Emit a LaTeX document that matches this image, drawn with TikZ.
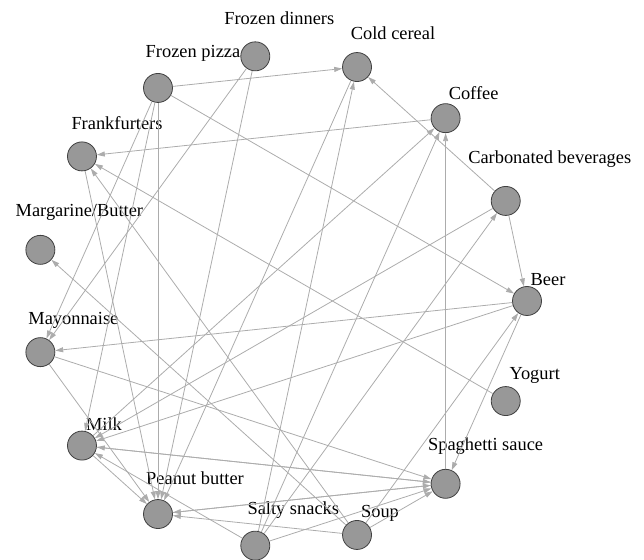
\documentclass[tikz,border=0pt]{standalone}
\usepackage{fontspec}
\setmainfont{Liberation Serif}
\usepackage{tikz}
\usepackage{xcolor}
\usetikzlibrary{arrows.meta}
\definecolor{node-grey}{RGB}{152,152,152}
\definecolor{rim-grey}{RGB}{64,64,64}
\definecolor{link-grey}{RGB}{172,172,172}
\tikzset{
    food-node/.style = {circle, draw=rim-grey, fill=node-grey, line width=0.8pt, minimum size=29pt, inner sep=0pt},
    food-label/.style = {font=\fontsize{18.4}{20}\selectfont, inner sep=0pt, text height=12pt, text depth=4pt},
    link/.style = {draw=link-grey, line width=0.8pt, -{Triangle[length=8pt, width=5pt]}},
}

\begin{document}
\begin{tikzpicture}[x=1pt, y=1pt]
\useasboundingbox (0,0) rectangle (644,559);
\begin{scope}[shift={(281,258)}]
\node[food-node] (beer) at (0:246) {};
\node[food-node] (carb-bev) at (24:246) {};
\node[food-node] (coffee) at (48:246) {};
\node[food-node] (cold-cereal) at (72:246) {};
\node[food-node] (frozen-dinners) at (96:246) {};
\node[food-node] (frozen-pizza) at (120:246) {};
\node[food-node] (frankfurters) at (144:246) {};
\node[food-node] (margarine) at (168:246) {};
\node[food-node] (mayonnaise) at (192:246) {};
\node[food-node] (milk) at (216:246) {};
\node[food-node] (peanut-butter) at (240:246) {};
\node[food-node] (salty-snacks) at (264:246) {};
\node[food-node] (soup) at (288:246) {};
\node[food-node] (spaghetti) at (312:246) {};
\node[food-node] (yogurt) at (336:246) {};
\end{scope}

% labels sit up and to the right of their circles
\node[food-label, xshift=21pt, yshift=19pt] (beer-label) at (beer) {Beer};
\node[food-label, xshift=44pt, yshift=41pt] (carb-bev-label) at (carb-bev) {Carbonated beverages};
\node[food-label, xshift=28pt, yshift=23pt] (coffee-label) at (coffee) {Coffee};
\node[food-label, xshift=36pt, yshift=32pt] (cold-cereal-label) at (cold-cereal) {Cold cereal};
\node[food-label, xshift=24pt, yshift=36pt] (frozen-dinners-label) at (frozen-dinners) {Frozen dinners};
\node[food-label, xshift=35pt, yshift=34pt] (frozen-pizza-label) at (frozen-pizza) {Frozen pizza};
\node[food-label, xshift=35pt, yshift=31pt] (frankfurters-label) at (frankfurters) {Frankfurters};
\node[food-label, xshift=39pt, yshift=37pt] (margarine-label) at (margarine) {Margarine/Butter};
\node[food-label, xshift=33pt, yshift=32pt] (mayonnaise-label) at (mayonnaise) {Mayonnaise};
\node[food-label, xshift=22pt, yshift=19pt] (milk-label) at (milk) {Milk};
\node[food-label, xshift=37pt, yshift=34pt] (peanut-butter-label) at (peanut-butter) {Peanut butter};
\node[food-label, xshift=38pt, yshift=35pt] (salty-snacks-label) at (salty-snacks) {Salty snacks};
\node[food-label, xshift=23pt, yshift=21pt] (soup-label) at (soup) {Soup};
\node[food-label, xshift=40pt, yshift=37pt] (spaghetti-label) at (spaghetti) {Spaghetti sauce};
\node[food-label, xshift=29pt, yshift=26pt] (yogurt-label) at (yogurt) {Yogurt};

% links
\draw[link] (frozen-pizza) -- (cold-cereal);
\draw[link] (frozen-pizza) -- (beer);
\draw[link] (frozen-pizza) -- (mayonnaise);
\draw[link] (frozen-pizza) -- (milk);
\draw[link] (frozen-pizza) -- (peanut-butter);
\draw[link] (frozen-dinners) -- (mayonnaise);
\draw[link] (frozen-dinners) -- (peanut-butter);
\draw[link] (cold-cereal) -- (peanut-butter);
\draw[link] (carb-bev) -- (cold-cereal);
\draw[link] (carb-bev) -- (beer);
\draw[link] (carb-bev) -- (milk);
\draw[link] (coffee) -- (frankfurters);
\draw[link] (milk) -- (coffee);
\draw[link] (beer) -- (mayonnaise);
\draw[link] (beer) -- (milk);
\draw[link] (beer) -- (spaghetti);
\draw[link] (yogurt) -- (frankfurters);
\draw[link] (frankfurters) -- (peanut-butter);
\draw[link] (mayonnaise) -- (spaghetti);
\draw[link] (mayonnaise) -- (peanut-butter);
\draw[link] (milk) -- (peanut-butter);
\draw[link] (milk) -- (spaghetti);
\draw[link] (spaghetti) -- (milk);
\draw[link] (peanut-butter) -- (spaghetti);
\draw[link] (spaghetti) -- (peanut-butter);
\draw[link] (spaghetti) -- (coffee);
\draw[link] (salty-snacks) -- (cold-cereal);
\draw[link] (salty-snacks) -- (coffee);
\draw[link] (salty-snacks) -- (carb-bev);
\draw[link] (salty-snacks) -- (spaghetti);
\draw[link] (salty-snacks) -- (milk);
\draw[link] (soup) -- (beer);
\draw[link] (soup) -- (frankfurters);
\draw[link] (soup) -- (margarine);
\draw[link] (soup) -- (peanut-butter);
\draw[link] (soup) -- (spaghetti);
\end{tikzpicture}
\end{document}
